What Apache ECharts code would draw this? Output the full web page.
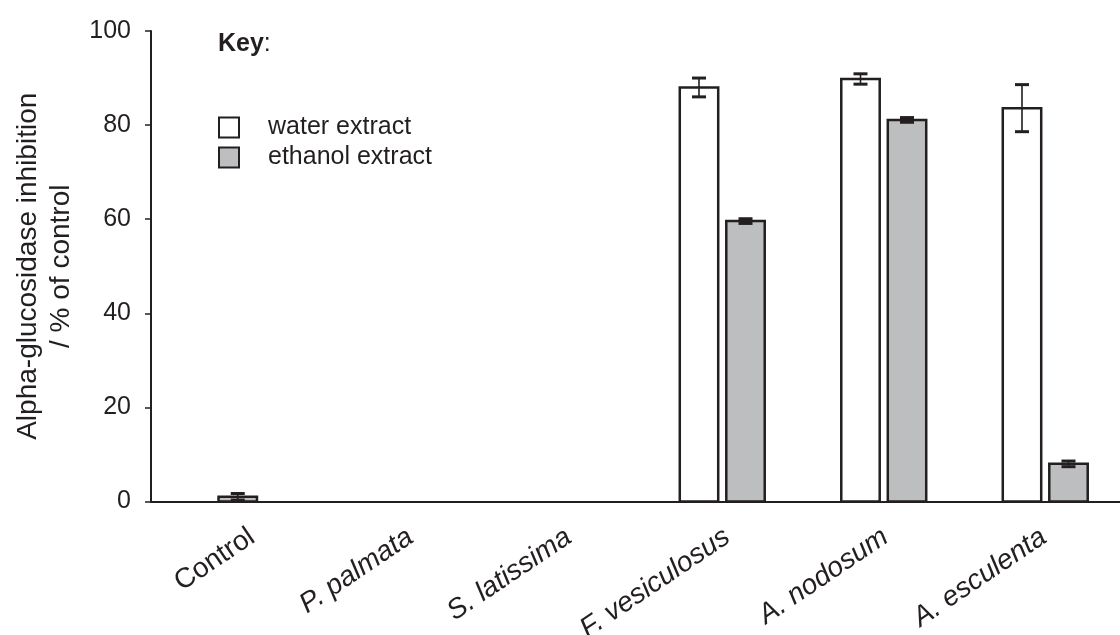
<!DOCTYPE html>
<html>
<head>
<meta charset="utf-8">
<script src="https://cdn.jsdelivr.net/npm/echarts@6/dist/echarts.min.js"></script>
<style>
  html, body { margin: 0; padding: 0; background: #ffffff; }
  #chart { width: 1120px; height: 635px; }
</style>
</head>
<body>
<div id="chart"></div>
<script>
// Alpha-glucosidase inhibition of seaweed extracts (% of control), mean ± error
const categories = ['Control', 'P. palmata', 'S. latissima', 'F. vesiculosus', 'A. nodosum', 'A. esculenta'];
const waterMean   = [null, null, null, 88.0, 89.8, 83.6];
const waterErr    = [null, null, null, 2.0, 1.1, 5.0];
const ethanolMean = [1.0, null, null, 59.6, 81.1, 8.0];
const ethanolErr  = [0.7, null, null, 0.5, 0.5, 0.6];
const yTicks = [0, 20, 40, 60, 80, 100];

const INK = '#231f20';
const FONT = '"Liberation Sans", Arial, Helvetica, sans-serif';
const seriesMeans = [waterMean, ethanolMean];
const seriesErrs = [waterErr, ethanolErr];
const fills = ['#ffffff', '#bcbec0'];
const names = ['water extract', 'ethanol extract'];

// Bars + error bars drawn with a custom series so a category holding a single
// value gets its bar centred in the band.
function makeRender(sIdx) {
  return function (params, api) {
    const cat = api.value(0);
    const v = api.value(1);
    const err = api.value(2);
    const band = api.size([1, 0])[0];
    const barW = band * 0.238;
    const gap = band * 0.05;
    const present = seriesMeans.filter(arr => arr[cat] != null).length;
    let offset = 0;
    if (present > 1) offset = (sIdx === 0 ? -1 : 1) * (barW + gap) / 2;
    const base = api.coord([cat, 0]);
    const top = api.coord([cat, v]);
    const cx = base[0] + offset;
    const hi = api.coord([cat, v + err])[1];
    const lo = api.coord([cat, v - err])[1];
    const capHalf = 7;
    return {
      type: 'group',
      children: [
        {
          type: 'rect',
          shape: { x: cx - barW / 2, y: top[1], width: barW, height: base[1] - top[1] },
          style: { fill: fills[sIdx], stroke: INK, lineWidth: 2.5 }
        },
        {
          type: 'line',
          shape: { x1: cx, y1: hi, x2: cx, y2: lo },
          style: { stroke: INK, lineWidth: 1.6 }
        },
        {
          type: 'line',
          shape: { x1: cx - capHalf, y1: hi, x2: cx + capHalf, y2: hi },
          style: { stroke: INK, lineWidth: 3 }
        },
        {
          type: 'line',
          shape: { x1: cx - capHalf, y1: lo, x2: cx + capHalf, y2: lo },
          style: { stroke: INK, lineWidth: 3 }
        }
      ]
    };
  };
}

function seriesData(means, errs) {
  return categories
    .map((c, i) => (means[i] == null ? null : [i, means[i], errs[i]]))
    .filter(d => d !== null);
}

const plotTop = 31;
const plotBottom = 133.5;

const option = {
  animation: false,
  backgroundColor: '#ffffff',
  textStyle: { fontFamily: FONT, color: INK },
  title: {
    text: '{b|Key}:',
    left: 218,
    top: 32,
    padding: 0,
    textStyle: {
      fontFamily: FONT, fontSize: 25, color: INK, fontWeight: 'normal',
      rich: { b: { fontFamily: FONT, fontSize: 25, color: INK, fontWeight: 'bold' } }
    }
  },
  legend: {
    orient: 'vertical',
    left: 218,
    top: 115,
    padding: 0,
    itemWidth: 20,
    itemHeight: 20,
    itemGap: 5,
    icon: 'rect',
    selectedMode: false,
    textStyle: { fontFamily: FONT, fontSize: 25, color: INK, padding: [0, 0, 0, 24] },
    data: names.map((n, i) => ({
      name: n,
      itemStyle: { color: fills[i], borderColor: INK, borderWidth: 2 }
    }))
  },
  grid: [
    // plotting band for the bars
    { left: 157, top: plotTop, bottom: plotBottom, width: 969, outerBoundsMode: 'none' },
    // axis frame
    { left: 151, top: plotTop, bottom: plotBottom, right: 0, outerBoundsMode: 'none' },
    // category labels
    { left: 173, top: plotTop, bottom: plotBottom, width: 950, outerBoundsMode: 'none' }
  ],
  xAxis: [
    {
      gridIndex: 0, type: 'category', data: categories, boundaryGap: true, show: false
    },
    {
      gridIndex: 1, type: 'value', min: 0, max: 1,
      axisLine: { show: true, lineStyle: { color: INK, width: 2 } },
      axisTick: { show: false }, axisLabel: { show: false }, splitLine: { show: false }
    },
    {
      gridIndex: 2, type: 'category', boundaryGap: true,
      data: categories.map(c => ({
        value: c,
        textStyle: { fontStyle: c === 'Control' ? 'normal' : 'italic' }
      })),
      axisLine: { show: false }, axisTick: { show: false },
      axisLabel: {
        show: true, rotate: 34, margin: 33, interval: 0,
        fontFamily: FONT, fontSize: 28, color: INK
      }
    }
  ],
  yAxis: [
    { gridIndex: 0, type: 'value', min: 0, max: 100, show: false },
    {
      gridIndex: 1, type: 'value', min: 0, max: 100, interval: 20,
      axisLine: { show: true, lineStyle: { color: INK, width: 2 } },
      axisTick: { show: true, inside: false, length: 6, lineStyle: { color: INK, width: 1.5 } },
      axisLabel: {
        margin: 20, fontFamily: FONT, fontSize: 25, color: INK,
        formatter: v => (yTicks.includes(v) ? String(v) : '')
      },
      splitLine: { show: false },
      name: 'Alpha-glucosidase inhibition\n/ % of control',
      nameLocation: 'middle',
      nameGap: 73,
      nameTextStyle: { fontFamily: FONT, fontSize: 28, color: INK, lineHeight: 33, align: 'center' }
    },
    { gridIndex: 2, type: 'value', min: 0, max: 100, show: false }
  ],
  series: [0, 1].map(sIdx => ({
    name: names[sIdx],
    type: 'custom',
    xAxisIndex: 0,
    yAxisIndex: 0,
    clip: false,
    itemStyle: { color: fills[sIdx], borderColor: INK, borderWidth: 2 },
    renderItem: makeRender(sIdx),
    encode: { x: 0, y: 1 },
    data: seriesData(seriesMeans[sIdx], seriesErrs[sIdx])
  }))
};

const chart = echarts.init(document.getElementById('chart'), null, { renderer: 'canvas' });
chart.setOption(option);
</script>
</body>
</html>
